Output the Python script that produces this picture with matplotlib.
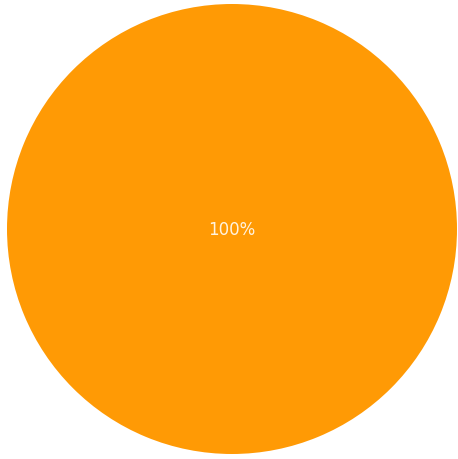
import matplotlib
matplotlib.use("Agg")
import matplotlib.pyplot as plt

labels = ['A']
values = [100]
colors = ['#FF9A05']

fig = plt.figure(figsize=(4.58, 4.60), dpi=100)
ax = fig.add_axes([7/458, 5/460, 450/458, 450/460])

wedges, texts, autotexts = ax.pie(values, colors=colors, startangle=90,
                                  autopct='%1.0f%%', pctdistance=0.0,
                                  wedgeprops=dict(linewidth=0),
                                  textprops=dict(color='#FFF3E0', fontsize=12))
ax.set_xlim(-1, 1)
ax.set_ylim(-1, 1)
ax.set_aspect('equal')
ax.axis('off')

fig.savefig('out.png', dpi=100)
